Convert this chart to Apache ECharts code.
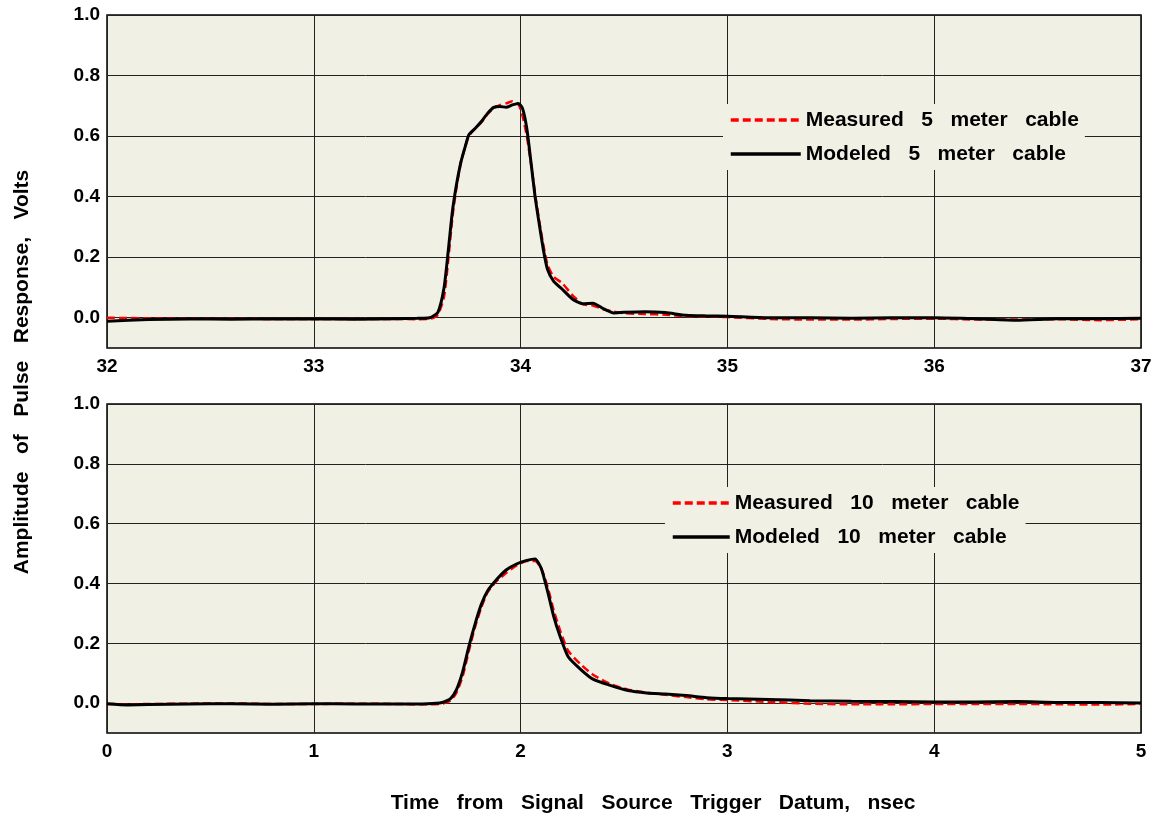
<!DOCTYPE html>
<html>
<head>
<meta charset="utf-8">
<script src="https://cdn.jsdelivr.net/npm/echarts@6/dist/echarts.min.js"></script>
<style>
html,body{margin:0;padding:0;background:#fff;}
#chart{width:1158px;height:819px;}
</style>
</head>
<body>
<div id="chart"></div>
<script>
// ---- Data ----
const topTime = [32.0, 32.2, 32.4, 32.6, 32.8, 33.0, 33.2, 33.4, 33.5, 33.56, 33.6, 33.63, 33.65, 33.67, 33.69, 33.71, 33.73, 33.75, 33.78, 33.81, 33.84, 33.87, 33.9, 33.93, 33.96, 33.99, 34.01, 34.03, 34.05, 34.07, 34.09, 34.11, 34.13, 34.16, 34.2, 34.25, 34.3, 34.35, 34.4, 34.45, 34.5, 34.6, 34.7, 34.8, 34.9, 35.0, 35.2, 35.4, 35.6, 35.8, 36.0, 36.2, 36.4, 36.6, 36.8, 37.0];
const topModeled = [-0.012, -0.006, -0.004, -0.005, -0.004, -0.004, -0.005, -0.003, -0.002, 0.0, 0.018, 0.10, 0.22, 0.35, 0.44, 0.51, 0.56, 0.605, 0.625, 0.648, 0.675, 0.695, 0.698, 0.695, 0.703, 0.708, 0.69, 0.625, 0.515, 0.40, 0.31, 0.225, 0.16, 0.12, 0.095, 0.062, 0.046, 0.048, 0.03, 0.016, 0.018, 0.02, 0.017, 0.008, 0.006, 0.005, 0.0, 0.0, -0.002, 0.0, 0.0, -0.003, -0.008, -0.003, -0.003, -0.002];
const topMeasured = [0.0, -0.002, -0.003, -0.003, -0.004, -0.004, -0.004, -0.004, -0.005, -0.004, 0.01, 0.07, 0.19, 0.33, 0.43, 0.51, 0.56, 0.60, 0.625, 0.645, 0.672, 0.693, 0.702, 0.708, 0.715, 0.705, 0.665, 0.60, 0.51, 0.41, 0.32, 0.24, 0.175, 0.135, 0.115, 0.075, 0.045, 0.04, 0.028, 0.02, 0.015, 0.012, 0.01, 0.005, 0.004, 0.002, -0.004, -0.006, -0.006, -0.004, -0.003, -0.006, -0.006, -0.005, -0.008, -0.005];

const botTime = [0, 0.1, 0.2, 0.4, 0.6, 0.8, 1.0, 1.2, 1.4, 1.55, 1.62, 1.66, 1.69, 1.72, 1.75, 1.78, 1.81, 1.84, 1.88, 1.93, 1.98, 2.03, 2.07, 2.1, 2.13, 2.16, 2.19, 2.23, 2.29, 2.35, 2.43, 2.52, 2.61, 2.7, 2.8, 2.9, 3.0, 3.2, 3.4, 3.6, 3.8, 4.0, 4.2, 4.4, 4.6, 4.8, 5.0];
const botModeled = [-0.002, -0.006, -0.005, -0.003, -0.002, -0.004, -0.002, -0.003, -0.003, -0.002, 0.002, 0.014, 0.045, 0.105, 0.19, 0.265, 0.33, 0.375, 0.41, 0.445, 0.465, 0.477, 0.482, 0.45, 0.375, 0.29, 0.225, 0.155, 0.113, 0.08, 0.06, 0.042, 0.034, 0.03, 0.025, 0.018, 0.015, 0.012, 0.008, 0.006, 0.005, 0.004, 0.004, 0.005, 0.002, 0.002, 0.0];
const botMeasured = [-0.003, -0.004, -0.003, -0.002, -0.001, -0.003, -0.003, -0.002, -0.003, -0.004, -0.002, 0.008, 0.035, 0.09, 0.175, 0.255, 0.32, 0.37, 0.405, 0.435, 0.46, 0.475, 0.475, 0.45, 0.39, 0.31, 0.245, 0.175, 0.13, 0.095, 0.065, 0.045, 0.035, 0.028, 0.02, 0.013, 0.01, 0.004, -0.002, -0.004, -0.004, -0.003, -0.003, -0.003, -0.004, -0.005, -0.003];

const yTicks = [0, 0.2, 0.4, 0.6, 0.8, 1.0];
const seriesNames = ['Measured   5   meter   cable', 'Modeled   5   meter   cable', 'Measured   10   meter   cable', 'Modeled   10   meter   cable'];
const yTitle = 'Amplitude   of   Pulse   Response,   Volts';
const xTitle = 'Time   from   Signal   Source   Trigger   Datum,   nsec';

// ---- Chart ----
const FONT = '"Liberation Sans", Arial, sans-serif';
const BG = '#f1f0e4';
const pair = (xs, ys) => xs.map((x, i) => [x, ys[i]]);

function xAxis(gridIndex, min, max) {
  return {
    type: 'value', gridIndex, min, max, interval: 1,
    axisLine: { show: false },
    axisTick: { show: false },
    splitLine: { show: true, lineStyle: { color: '#222', width: 1 } },
    axisLabel: { color: '#000', fontSize: 19, fontWeight: 'bold', fontFamily: FONT, margin: 9 }
  };
}
function yAxis(gridIndex) {
  return {
    type: 'value', gridIndex, min: -0.1, max: 1.0,
    axisLine: { show: false },
    axisTick: { show: false, customValues: yTicks },
    splitLine: { show: true, lineStyle: { color: '#222', width: 1 } },
    axisLabel: { color: '#000', fontSize: 19, fontWeight: 'bold', fontFamily: FONT, margin: 7,
      customValues: yTicks, formatter: v => v.toFixed(1) }
  };
}
const legendText = { color: '#000', fontSize: 21, fontWeight: 'bold', fontFamily: FONT, lineHeight: 24 };
const hiddenSymbol = { color: 'rgba(0,0,0,0)', borderColor: 'rgba(0,0,0,0)', borderWidth: 0, opacity: 0 };

const option = {
  backgroundColor: '#fff',
  animation: false,
  grid: [
    { left: 107, top: 15, width: 1034, height: 333, show: true, backgroundColor: BG, borderColor: '#000', borderWidth: 1.5 },
    { left: 107, top: 404, width: 1034, height: 329, show: true, backgroundColor: BG, borderColor: '#000', borderWidth: 1.5 }
  ],
  xAxis: [xAxis(0, 32, 37), xAxis(1, 0, 5)],
  yAxis: [yAxis(0), yAxis(1)],
  legend: [
    { data: [seriesNames[0], seriesNames[1]], orient: 'vertical', left: 723, top: 104,
      padding: [4, 6, 4, 6], itemWidth: 70, itemHeight: 14, itemGap: 10,
      backgroundColor: BG, textStyle: legendText, selectedMode: false, itemStyle: hiddenSymbol,
      lineStyle: { width: 3.5 } },
    { data: [seriesNames[2], seriesNames[3]], orient: 'vertical', left: 665, top: 487,
      padding: [4, 6, 4, 6], itemWidth: 57, itemHeight: 14, itemGap: 10,
      backgroundColor: BG, textStyle: legendText, selectedMode: false, itemStyle: hiddenSymbol,
      lineStyle: { width: 3.5 } }
  ],
  series: [
    { name: seriesNames[0], type: 'line', xAxisIndex: 0, yAxisIndex: 0, data: pair(topTime, topMeasured),
      symbol: 'none', smooth: 0.2, lineStyle: { color: '#ff0000', width: 2.5, type: [8, 4] }, itemStyle: { color: '#ff0000' }, z: 3 },
    { name: seriesNames[1], type: 'line', xAxisIndex: 0, yAxisIndex: 0, data: pair(topTime, topModeled),
      symbol: 'none', smooth: 0.2, lineStyle: { color: '#000', width: 3 }, itemStyle: { color: '#000' }, z: 4 },
    { name: seriesNames[2], type: 'line', xAxisIndex: 1, yAxisIndex: 1, data: pair(botTime, botMeasured),
      symbol: 'none', smooth: 0.2, lineStyle: { color: '#ff0000', width: 2.5, type: [8, 4] }, itemStyle: { color: '#ff0000' }, z: 3 },
    { name: seriesNames[3], type: 'line', xAxisIndex: 1, yAxisIndex: 1, data: pair(botTime, botModeled),
      symbol: 'none', smooth: 0.2, lineStyle: { color: '#000', width: 3 }, itemStyle: { color: '#000' }, z: 4 }
  ],
  graphic: [
    { type: 'text', x: 22, y: 372, rotation: Math.PI / 2,
      style: { text: yTitle, font: 'bold 21px ' + FONT, fill: '#000', align: 'center', verticalAlign: 'middle' } },
    { type: 'text', x: 653, y: 803,
      style: { text: xTitle, font: 'bold 21px ' + FONT, fill: '#000', align: 'center', verticalAlign: 'middle' } }
  ]
};
const chart = echarts.init(document.getElementById('chart'), null, { renderer: 'canvas' });
chart.setOption(option);
</script>
</body>
</html>
